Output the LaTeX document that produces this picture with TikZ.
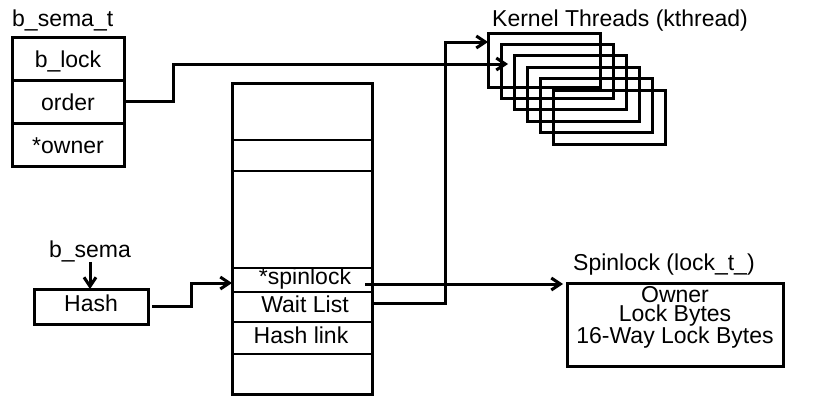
\documentclass[tikz,border=0pt]{standalone}
\usepackage{fontspec}
\setmainfont{Liberation Sans}
\usetikzlibrary{positioning, arrows.meta, calc}

\tikzset{
  cell/.style={draw, line width=3pt, minimum width=112pt, minimum height=43pt,
    inner sep=0pt, outer sep=0pt, text height=19pt, text depth=2pt},
  frame/.style={draw, line width=3pt, inner sep=0pt, outer sep=0pt},
  thread/.style={frame, anchor=north west, minimum width=112pt, minimum height=54pt},
  field/.style={inner sep=0pt, anchor=base},
  lbl/.style={inner sep=0pt, anchor=base west},
  link/.style={line width=3pt, -{Straight Barb[length=9pt,width=12pt]}},
}

\begin{document}
\begin{tikzpicture}[x=1pt, y=-1pt, font=\fontsize{23}{19}\selectfont]
    \useasboundingbox (0,0) rectangle (821,415);

    % b_sema_t structure
    \node[lbl] (semat) at (12,27) {b\_sema\_t};
    \node[cell] (blk) at (68,58.5) {b\_lock};
    \node[cell] (ord) at (68,101.5) {order};
    \node[cell] (own) at (68,145) {*owner};

    % semaphore object
    \node[frame, minimum width=140pt, minimum height=311pt] (sema) at (302,238.5) {};
    \foreach \y in {140,171,268,292,322,354}
        \draw[line width=1.5pt] (232,\y) -- (372,\y);
    \node[field] (spin) at (305,284) {*spinlock};
    \node[field] (wait) at (305,312) {Wait List};
    \node[field] (hlink) at (301,343) {Hash link};

    % hash entry
    \node[field] (bsema) at (90,257) {b\_sema};
    \node[frame, minimum width=114pt, minimum height=35pt, text height=11pt, text depth=2pt] (hash) at (91,306.5) {Hash};

    % kernel threads
    \node[lbl] (ktlbl) at (492,27) {Kernel Threads (kthread)};
    \foreach \i in {0,...,5}
        \node[thread] (kt\i) at ({488+13*\i},{33+11.4*\i}) {};

    % spinlock
    \node[lbl] (splbl) at (573,270) {Spinlock (lock\_t\_)};
    \node[frame, minimum width=216pt, minimum height=83pt] (spinbox) at (675,324.5) {};
    \node[inner sep=0pt, anchor=north, align=center] (spintxt) at (675,286) {Owner\\Lock Bytes\\16-Way Lock Bytes};

    % connectors
    \coordinate (ordturn) at (173,64);
    \coordinate (waitturn) at (445,42);
    \coordinate (hashturn) at (191,283);
    \draw[link] (ord.east) -| (ordturn) -- ([xshift=-6pt]ordturn -| kt2.west);
    \draw[link] (wait.east -| sema.east) -| (waitturn) -- (waitturn -| kt0.west);
    \draw[link] ([xshift=-7pt]sema.east |- spin.base) -- ([xshift=-4pt]spinbox.west |- spin.base);
    \draw[link] ([xshift=4pt]hash.east) -| (hashturn) -- (hashturn -| sema.west);
    \draw[link] (bsema.south) -- (bsema.south |- hash.north);
\end{tikzpicture}
\end{document}
